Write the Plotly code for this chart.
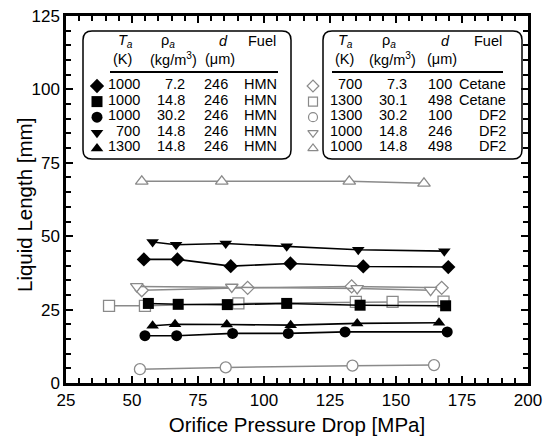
import plotly.graph_objects as go

# ---- measured series: orifice pressure drop [MPa] vs liquid length [mm] ----
# filled symbols: hexadecane (HMN), d = 246 um
hmn_diamond_x = [54.5, 67.2, 87.4, 110.0, 137.6, 169.8]
hmn_diamond_y = [42.1, 42.1, 39.8, 40.7, 39.7, 39.5]
hmn_square_x = [56.2, 67.5, 86.1, 108.6, 136.4, 168.8]
hmn_square_y = [27.1, 26.8, 26.7, 27.1, 26.5, 26.3]
hmn_circle_x = [54.9, 66.9, 88.1, 109.2, 130.7, 169.4]
hmn_circle_y = [16.1, 16.1, 16.9, 16.9, 17.4, 17.4]
hmn_tdown_x = [57.8, 66.7, 85.5, 108.6, 135.7, 168.3]
hmn_tdown_y = [48.0, 47.1, 47.5, 46.6, 45.4, 44.9]
hmn_tup_x = [57.8, 66.3, 85.9, 110.1, 135.3, 166.3]
hmn_tup_y = [19.5, 20.0, 19.9, 19.7, 20.3, 20.5]

# open symbols: cetane and DF2
cet_diamond_x = [53.7, 93.8, 133.2, 167.3]
cet_diamond_y = [31.6, 32.4, 32.9, 32.4]
cet_square_x = [41.3, 54.9, 90.3, 134.8, 148.7, 168.0]
cet_square_y = [26.3, 26.3, 27.1, 27.6, 27.6, 27.7]
df2_circle_x = [53.0, 85.5, 133.5, 164.4]
df2_circle_y = [4.7, 5.3, 5.9, 6.1]
df2_tdown_x = [51.8, 87.8, 135.3, 163.1]
df2_tdown_y = [32.9, 32.7, 32.2, 31.6]
df2_tup_x = [53.7, 84.0, 132.3, 160.6]
df2_tup_y = [68.7, 68.7, 68.7, 68.0]

# ---- key tables ----
left_rows = [
    ("diamond", "1000", "7.2", "246", "HMN"),
    ("square", "1000", "14.8", "246", "HMN"),
    ("circle", "1000", "30.2", "246", "HMN"),
    ("triangle-down", "700", "14.8", "246", "HMN"),
    ("triangle-up", "1300", "14.8", "246", "HMN"),
]
right_rows = [
    ("diamond-open", "700", "7.3", "100", "Cetane"),
    ("square-open", "1300", "30.1", "498", "Cetane"),
    ("circle-open", "1300", "30.2", "100", "DF2"),
    ("triangle-down-open", "1000", "14.8", "246", "DF2"),
    ("triangle-up-open", "1000", "14.8", "498", "DF2"),
]

FONT = "Liberation Sans, Arial, sans-serif"
BLACK = "#000000"
GRAY = "#8a8a8a"
KEY_SIZE = 14.5

fig = go.Figure()

open_series = [
    (cet_square_x, cet_square_y, "square"),
    (cet_diamond_x, cet_diamond_y, "diamond"),
    (df2_tdown_x, df2_tdown_y, "triangle-down"),
    (df2_circle_x, df2_circle_y, "circle"),
    (df2_tup_x, df2_tup_y, "triangle-up"),
]
for xs, ys, sym in open_series:
    size = 10 if sym == "diamond" else 11
    fig.add_trace(go.Scatter(
        x=xs, y=ys, mode="lines+markers",
        line=dict(color=GRAY, width=1.5),
        marker=dict(symbol=sym, size=size, color="white",
                    line=dict(color=GRAY, width=1.3)),
        showlegend=False, hoverinfo="skip"))

filled_series = [
    (hmn_square_x, hmn_square_y, "square"),
    (hmn_diamond_x, hmn_diamond_y, "diamond"),
    (hmn_tdown_x, hmn_tdown_y, "triangle-down"),
    (hmn_circle_x, hmn_circle_y, "circle"),
    (hmn_tup_x, hmn_tup_y, "triangle-up"),
]
for xs, ys, sym in filled_series:
    fig.add_trace(go.Scatter(
        x=xs, y=ys, mode="lines+markers",
        line=dict(color=BLACK, width=1.6),
        marker=dict(symbol=sym, size=11, color=BLACK,
                    line=dict(color=BLACK, width=0)),
        showlegend=False, hoverinfo="skip"))

# ---- key boxes drawn on a pixel-scaled overlay axis ----
PX_L, PX_R, PX_T, PX_B = 66, 528, 16, 383


def rounded_box(x0, y0, x1, y1, r):
    return (f"M{x0 + r},{y0} L{x1 - r},{y0} Q{x1},{y0} {x1},{y0 + r} "
            f"L{x1},{y1 - r} Q{x1},{y1} {x1 - r},{y1} "
            f"L{x0 + r},{y1} Q{x0},{y1} {x0},{y1 - r} "
            f"L{x0},{y0 + r} Q{x0},{y0} {x0 + r},{y0} Z")


annotations = []
shapes = []


def key_table(box, rule, head_x, sym_x, col_right, rows, filled):
    bx0, by0, bx1, by1 = box
    shapes.append(dict(type="path", path=rounded_box(bx0, by0, bx1, by1, 9),
                       xref="x2", yref="y2",
                       line=dict(color=BLACK, width=1.5), layer="above"))
    shapes.append(dict(type="line", xref="x2", yref="y2",
                       x0=rule[0], x1=rule[1], y0=72, y1=72,
                       line=dict(color=BLACK, width=2)))
    heads = [
        ("<i>T</i><sub><i>a</i></sub>", "(K)"),
        ("ρ<sub><i>a</i></sub>", "(kg/m<sup>3</sup>)"),
        ("<i>d</i>", "(μm)"),
        ("Fuel", ""),
    ]
    for (top, bottom), hx in zip(heads, head_x):
        annotations.append(dict(x=hx[0], y=40.5, xref="x2", yref="y2", text=top,
                                showarrow=False, xanchor="center", yanchor="middle",
                                font=dict(family=FONT, size=KEY_SIZE, color=BLACK)))
        if bottom:
            annotations.append(dict(x=hx[1], y=59, xref="x2", yref="y2", text=bottom,
                                    showarrow=False, xanchor="center", yanchor="middle",
                                    font=dict(family=FONT, size=KEY_SIZE, color=BLACK)))
    row_y = [84, 99.6, 115.2, 130.8, 146.4]
    for (sym, ta, rho, d, fuel), ry in zip(rows, row_y):
        for txt, cx in zip((ta, rho, d, fuel), col_right):
            annotations.append(dict(x=cx, y=ry, xref="x2", yref="y2", text=txt,
                                    showarrow=False, xanchor="right", yanchor="middle",
                                    font=dict(family=FONT, size=KEY_SIZE, color=BLACK)))
        if filled:
            mk = dict(symbol=sym, size=11, color=BLACK)
        else:
            mk = dict(symbol=sym, size=9, color=GRAY, line=dict(color=GRAY, width=1.2))
        fig.add_trace(go.Scatter(x=[sym_x], y=[ry + 2], mode="markers", marker=mk,
                                 xaxis="x2", yaxis="y2",
                                 showlegend=False, hoverinfo="skip"))


key_table((83, 31, 291, 159), (110, 278),
          [(125, 122), (168, 173), (223, 220), (262, 0)],
          97, (142, 187, 230, 279), left_rows, True)
key_table((323, 31, 522, 159), (332, 503),
          [(345, 344), (389, 392), (445, 442), (488, 0)],
          313, (364, 409, 454, 508), right_rows, False)

# y-axis title, placed as rotated text left of the tick labels (paper coords)
plot_w = PX_R - PX_L
plot_h = PX_B - PX_T
annotations.append(dict(x=(24 - PX_L) / plot_w, y=0.485, xref="paper", yref="paper",
                        text="Liquid Length [mm]", textangle=-90, showarrow=False,
                        xanchor="center", yanchor="middle",
                        font=dict(family=FONT, size=20.5, color=BLACK)))

tick_font = dict(family=FONT, size=17, color=BLACK)
axis_common = dict(
    showgrid=False, zeroline=False, showline=True, linecolor=BLACK, linewidth=2.5,
    mirror="allticks", ticks="inside", ticklen=7, tickwidth=1.5, tickcolor=BLACK,
    tickfont=tick_font, automargin=False,
    minor=dict(ticks="inside", ticklen=5, tickwidth=1.5, tickcolor=BLACK, dtick=5),
)

fig.update_layout(
    width=555, height=441,
    margin=dict(l=PX_L, r=555 - PX_R, t=PX_T, b=441 - PX_B),
    paper_bgcolor="white", plot_bgcolor="white",
    xaxis=dict(range=[25, 200], tick0=25, dtick=25,
               title=dict(text="Orifice Pressure Drop [MPa]", standoff=9,
                          font=dict(family=FONT, size=20.5, color=BLACK)),
               **axis_common),
    yaxis=dict(range=[0, 125], tick0=0, dtick=25, **axis_common),
    xaxis2=dict(range=[PX_L, PX_R], overlaying="x", visible=False, fixedrange=True),
    yaxis2=dict(range=[PX_B, PX_T], overlaying="y", visible=False, fixedrange=True),
    shapes=shapes,
    annotations=annotations,
    showlegend=False,
)

fig.write_html("out.html")
